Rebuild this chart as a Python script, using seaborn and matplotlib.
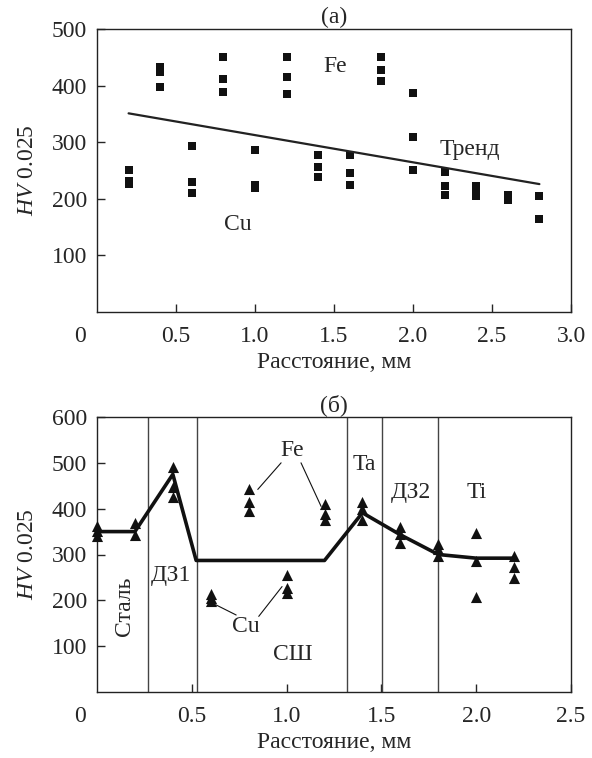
import numpy as np
import pandas as pd
import seaborn as sns
import matplotlib.pyplot as plt

# Panel (a) - hardness points (squares) and trend
a_x = [0.2, 0.2, 0.2,
       0.4, 0.4, 0.4,
       0.6, 0.6, 0.6,
       0.8, 0.8, 0.8,
       1.0, 1.0, 1.0,
       1.2, 1.2, 1.2,
       1.4, 1.4, 1.4,
       1.6, 1.6, 1.6,
       1.8, 1.8, 1.8,
       2.0, 2.0, 2.0,
       2.2, 2.2, 2.2,
       2.4, 2.4, 2.4,
       2.6, 2.6,
       2.8, 2.8]
a_hv = [250, 232, 226,
        432, 424, 398,
        294, 230, 211,
        450, 412, 389,
        286, 225, 219,
        450, 416, 386,
        277, 257, 238,
        278, 245, 224,
        450, 427, 409,
        387, 309, 250,
        248, 223, 206,
        222, 213, 205,
        206, 197,
        205, 165]
trend_x = [0.2, 2.8]
trend_hv = [351, 226]

# Panel (b) - hardness points (triangles) and mean line
b_x = [0.0, 0.0, 0.0,
       0.2, 0.2,
       0.4, 0.4, 0.4,
       0.6, 0.6, 0.6,
       0.8, 0.8, 0.8,
       1.0, 1.0, 1.0,
       1.2, 1.2, 1.2,
       1.4, 1.4, 1.4,
       1.6, 1.6, 1.6,
       1.8, 1.8, 1.8,
       2.0, 2.0, 2.0,
       2.2, 2.2, 2.2]
b_hv = [362, 352, 340,
        368, 343,
        492, 447, 425,
        214, 206, 198,
        444, 414, 396,
        255, 226, 215,
        410, 388, 375,
        415, 400, 375,
        360, 345, 325,
        322, 311, 297,
        346, 285, 208,
        296, 272, 249]
line_x = [0.0, 0.2, 0.4, 0.523, 1.2, 1.4, 1.6, 1.8, 2.0, 2.2]
line_hv = [350, 350, 475, 287, 287, 391, 343, 300, 292, 292]
zone_bounds = [0.27, 0.525, 1.32, 1.505, 1.80]

sns.set_style("ticks")
plt.rcParams["font.family"] = ["Liberation Serif", "DejaVu Serif"]
plt.rcParams["mathtext.fontset"] = "custom"
plt.rcParams["mathtext.rm"] = "Liberation Serif"
plt.rcParams["mathtext.it"] = "Liberation Serif:italic"
plt.rcParams["font.size"] = 17
plt.rcParams["axes.linewidth"] = 1.0

fig = plt.figure(figsize=(5.92, 7.58), dpi=100)
ax1 = fig.add_axes([97 / 592, 1 - 312 / 758, 474 / 592, 283 / 758])
ax2 = fig.add_axes([97 / 592, 1 - 692 / 758, 474 / 592, 275 / 758])

# ---- (a)
df_a = pd.DataFrame({"x": a_x, "hv": a_hv})
sns.scatterplot(data=df_a, x="x", y="hv", marker="s", color="#111111",
                s=40, linewidth=0, ax=ax1)
sns.lineplot(x=trend_x, y=trend_hv, color="#222222", linewidth=1.6, ax=ax1)
ax1.set_xlim(0, 3.0)
ax1.set_ylim(0, 500)
ax1.set_xticks([0.5, 1.0, 1.5, 2.0, 2.5, 3.0])
ax1.set_yticks([100, 200, 300, 400, 500])
ax1.text(1.51, 433, "Fe", ha="center", va="center")
ax1.text(0.89, 154, "Cu", ha="center", va="center")
ax1.text(2.36, 287, "Тренд", ha="center", va="center")
ax1.set_title("(a)", pad=4, fontsize=17)

# ---- (б)
df_b = pd.DataFrame({"x": b_x, "hv": b_hv})
for xb in zone_bounds:
    ax2.axvline(xb, color="#444444", linewidth=1.0, zorder=1)
sns.lineplot(x=line_x, y=line_hv, sort=False, estimator=None,
             color="#111111", linewidth=2.6, ax=ax2, zorder=3)
sns.scatterplot(data=df_b, x="x", y="hv", marker="^", color="#111111",
                s=64, linewidth=0, ax=ax2, zorder=4, clip_on=False)
ax2.set_xlim(0, 2.5)
ax2.set_ylim(0, 600)
ax2.set_xticks([0.5, 1.0, 1.5, 2.0, 2.5])
ax2.set_yticks([100, 200, 300, 400, 500, 600])
ax2.text(0.145, 186, "Сталь", rotation=90, ha="center", va="center")
ax2.text(0.39, 254, "ДЗ1", ha="center", va="center")
ax2.text(1.03, 528, "Fe", ha="center", va="center")
ax2.text(0.786, 143, "Cu", ha="center", va="center")
ax2.text(1.03, 81, "СШ", ha="center", va="center")
ax2.text(1.41, 497, "Ta", ha="center", va="center")
ax2.text(1.657, 436, "ДЗ2", ha="center", va="center")
ax2.text(2.0, 436, "Ti", ha="center", va="center")
leaders = [((0.971, 500), (0.848, 442)), ((1.076, 500), (1.182, 405)),
           ((0.734, 168), (0.628, 190)), ((0.853, 165), (0.976, 230))]
for start, end in leaders:
    ax2.annotate("", xy=end, xytext=start,
                 arrowprops=dict(arrowstyle="-", lw=0.8, color="#111111",
                                 shrinkA=0, shrinkB=0))
ax2.set_title("(б)", pad=4, fontsize=17)

for ax in (ax1, ax2):
    ax.tick_params(direction="in", length=6, width=1.0, top=False, right=False)
    ax.tick_params(axis="x", pad=10)
    ax.tick_params(axis="y", pad=7)
    for sp in ax.spines.values():
        sp.set_visible(True)
        sp.set_color("#222222")
    ax.set_xlabel("Расстояние, мм", labelpad=4)
    ax.set_ylabel(r"$HV$ 0.025", labelpad=10)
    ax.annotate("0", xy=(0, 0), xycoords="axes fraction", xytext=(-17, -24),
                textcoords="offset pixels", ha="center", va="center")

fig.savefig("out.png", dpi=100)
